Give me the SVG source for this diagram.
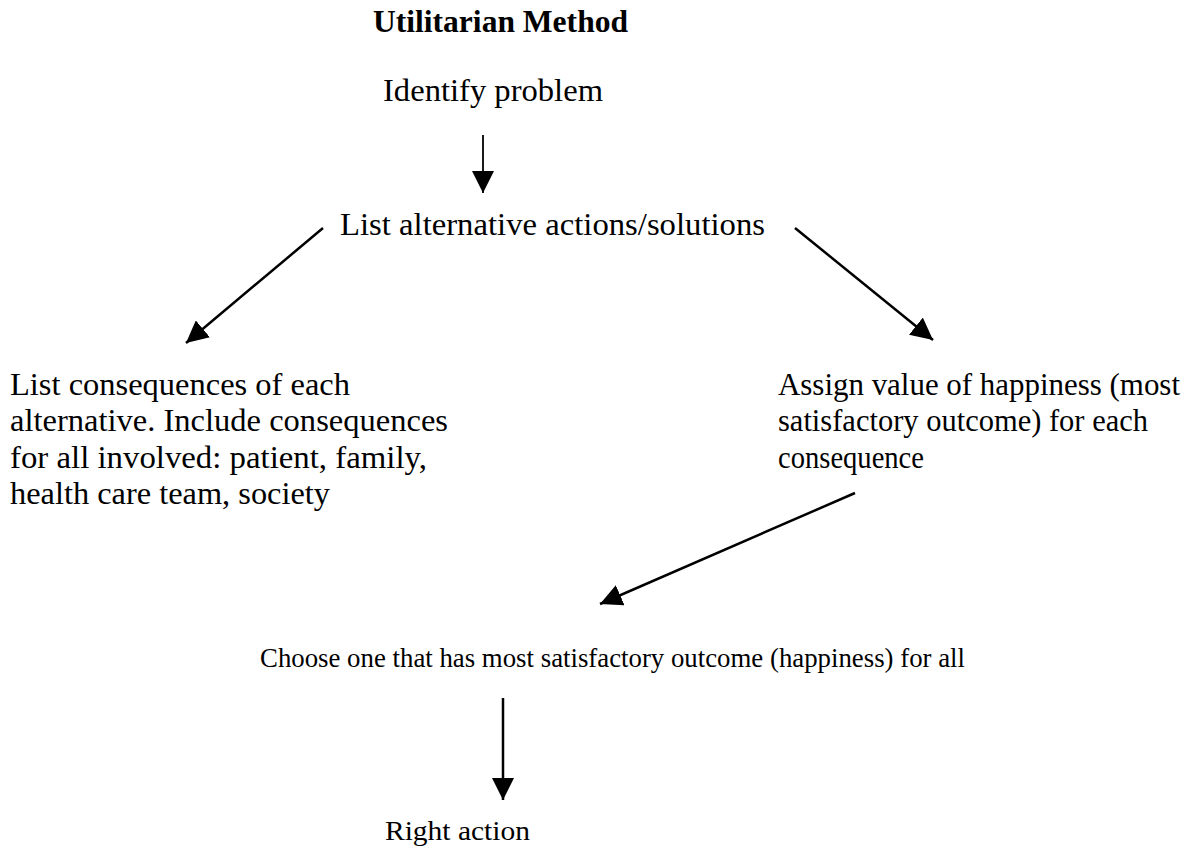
<svg xmlns="http://www.w3.org/2000/svg" width="1196" height="848" viewBox="0 0 1196 848">
<style>
  .t { font-family: "Liberation Serif", "Times New Roman", serif; font-size: 31px; fill: #000; }
  .b { font-weight: bold; }
  .s { font-size: 28px; }
  .c { stroke: #000; stroke-width: 2.5; fill: none; }
  .thin { stroke-width: 1.8; }
</style>
<defs>
  <marker id="ah" markerUnits="userSpaceOnUse" markerWidth="24" markerHeight="22" refX="22" refY="11" orient="auto">
    <path d="M0,0 L22,11 L0,22 Z" fill="#000"/>
  </marker>
</defs>
<rect width="1196" height="848" fill="#fff"/>
<g id="title"><text class="t b" x="373" y="32" textLength="255" lengthAdjust="spacingAndGlyphs">Utilitarian Method</text></g>
<g id="identify"><text class="t" x="383" y="101" textLength="220" lengthAdjust="spacingAndGlyphs">Identify problem</text></g>
<g id="alternatives"><text class="t" x="340" y="235" textLength="425" lengthAdjust="spacingAndGlyphs">List alternative actions/solutions</text></g>
<g id="consequences">
  <text class="t" x="10" y="395" textLength="340" lengthAdjust="spacingAndGlyphs">List consequences of each</text>
  <text class="t" x="10" y="431" textLength="438" lengthAdjust="spacingAndGlyphs">alternative. Include consequences</text>
  <text class="t" x="10" y="468" textLength="417" lengthAdjust="spacingAndGlyphs">for all involved: patient, family,</text>
  <text class="t" x="10" y="504" textLength="320" lengthAdjust="spacingAndGlyphs">health care team, society</text>
</g>
<g id="assign">
  <text class="t" x="778" y="395" textLength="402" lengthAdjust="spacingAndGlyphs">Assign value of happiness (most</text>
  <text class="t" x="778" y="431" textLength="370" lengthAdjust="spacingAndGlyphs">satisfactory outcome) for each</text>
  <text class="t" x="778" y="468" textLength="146" lengthAdjust="spacingAndGlyphs">consequence</text>
</g>
<g id="choose"><text class="t s" x="260" y="667" textLength="705" lengthAdjust="spacingAndGlyphs">Choose one that has most satisfactory outcome (happiness) for all</text></g>
<g id="right"><text class="t s" x="385" y="840" textLength="145" lengthAdjust="spacingAndGlyphs">Right action</text></g>
<g id="connectors">
  <line class="c thin" x1="483" y1="135" x2="483" y2="193" marker-end="url(#ah)"/>
  <line class="c" x1="323" y1="228" x2="186" y2="343" marker-end="url(#ah)"/>
  <line class="c" x1="795" y1="228" x2="933" y2="340" marker-end="url(#ah)"/>
  <line class="c" x1="855" y1="493" x2="600" y2="604" marker-end="url(#ah)"/>
  <line class="c" x1="503" y1="698" x2="503" y2="800" marker-end="url(#ah)"/>
</g>
</svg>
